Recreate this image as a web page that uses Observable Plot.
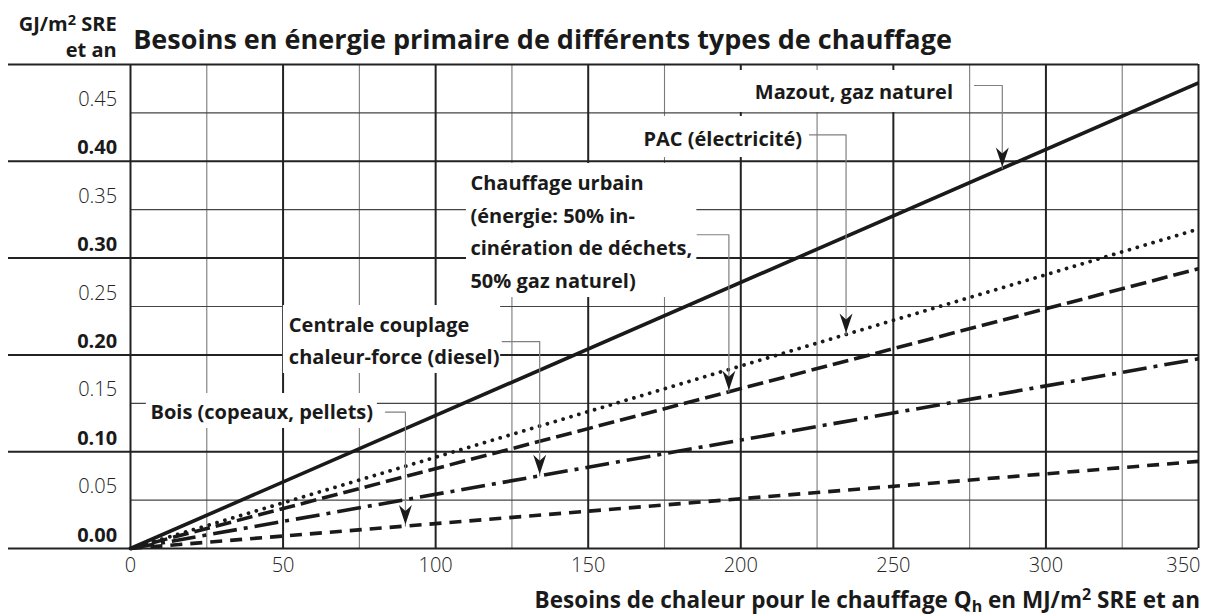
<!DOCTYPE html>
<html><head><meta charset="utf-8">
<script src="https://cdn.jsdelivr.net/npm/d3@7"></script>
<script src="https://cdn.jsdelivr.net/npm/@observablehq/plot@0.6"></script>
<style>
html,body{margin:0;padding:0;background:#fff;}
#chart{width:1207px;height:616px;}
</style></head><body><div id="chart"></div>
<script>
// ---- data ----
const qh = [0, 350];                       // MJ/m2 SRE et an
const seriesNames = ["Mazout, gaz naturel", "PAC (électricité)", "Chauffage urbain", "Centrale couplage chaleur-force (diesel)", "Bois (copeaux, pellets)"];
const mazout = [0, 0.481];                 // GJ/m2 SRE et an
const pac = [0, 0.330];
const urbain = [0, 0.289];
const ccf = [0, 0.196];
const bois = [0, 0.090];

const xMajorTicks = [0, 50, 100, 150, 200, 250, 300, 350];
const xMinorTicks = [25, 75, 125, 175, 225, 275, 325];
const yMajorTicks = [0, 0.1, 0.2, 0.3, 0.4, 0.5];
const yMinorTicks = [0.05, 0.15, 0.25, 0.35, 0.45];
const yLabelsBold = [0, 0.1, 0.2, 0.3, 0.4];
const yLabelsLight = [0.05, 0.15, 0.25, 0.35, 0.45];

const annotationTexts = [
  "Mazout, gaz naturel",
  "PAC (électricité)",
  "Chauffage urbain\n(énergie: 50% in-\ncinération de déchets,\n50% gaz naturel)",
  "Centrale couplage\nchaleur-force (diesel)",
  "Bois (copeaux, pellets)"
];

const titleText = "Besoins en énergie primaire de différents types de chauffage";

// ---- build tables ----
const valuesBySeries = [mazout, pac, urbain, ccf, bois];
const rows = [];
seriesNames.forEach((s, i) => qh.forEach((q, j) => rows.push({s, q, v: valuesBySeries[i][j]})));

// annotation layout (data units): text anchor, white box, leader
const annLayout = [
  {tx: 204.6, ty: 0.4646, box: [199.3, 274.3, 0.4504, 0.4938], lx: 276.6, ly: 0.4783, ax: 285.7},
  {tx: 168.1, ty: 0.4163, box: [166.2, 221.5, 0.4039, 0.4463], lx: 222.5, ly: 0.4274, ax: 234.5},
  {tx: 111.4, ty: 0.2696, box: [110.1, 185.6, 0.2593, 0.3977], lx: 185.7, ly: 0.3241, ax: 196.1},
  {tx: 51.9,  ty: 0.1901, box: [50.1, 121.3, 0.1808, 0.2510], lx: 121.8, ly: 0.2138, ax: 134.1},
  {tx: 6.55,  ty: 0.1340, box: [5.2, 80.9, 0.1240, 0.1601], lx: 83.6, ly: 0.1408, ax: 90.1}
];
const annRows = annLayout.map((a, i) => {
  const f = d3.scaleLinear(qh, valuesBySeries[i]);
  return {...a, text: annotationTexts[i], tipY: f(a.ax), id: i};
});
const leaderRows = annRows.flatMap(a => [
  {id: a.id, x: a.lx, y: a.ly},
  {id: a.id, x: a.ax, y: a.ly},
  {id: a.id, x: a.ax, y: a.tipY}
]);

const ink = "#1a1a1a";
const lineStyles = [
  {dash: null, cap: "butt", w: 3.6},
  {dash: "0.01 8.2", cap: "round", w: 3.8},
  {dash: "16 6", cap: "butt", w: 3.6},
  {dash: "24 7 4 7", cap: "butt", w: 3.6},
  {dash: "12 8", cap: "butt", w: 3.6}
];

const arrowHead = {
  draw(ctx) {
    ctx.moveTo(0, -1.5);
    ctx.lineTo(-6.5, -21);
    ctx.lineTo(0, -15);
    ctx.lineTo(6.5, -21);
    ctx.closePath();
  }
};

const fmt = d3.format(".2f");
const FONT = "'Open Sans', 'Noto Sans', sans-serif";

const chart = Plot.plot({
  width: 1207, height: 616,
  marginLeft: 130, marginRight: 9, marginTop: 64, marginBottom: 68,
  x: {domain: [0, 350], axis: null},
  y: {domain: [0, 0.5], axis: null},
  style: {fontFamily: FONT, background: "#fff", color: ink, overflow: "visible"},
  marks: [
    Plot.ruleX(xMinorTicks, {x: d => d, stroke: "#7a7a7a", strokeWidth: 1.1}),
    Plot.ruleY(yMinorTicks, {y: d => d, stroke: "#444", strokeWidth: 1.2}),
    Plot.ruleX(xMajorTicks, {x: d => d, stroke: "#222", strokeWidth: 2}),
    Plot.ruleY(yMajorTicks, {y: d => d, stroke: "#222", strokeWidth: 2, insetLeft: -122}),
    Plot.rect(annRows, {x1: d => d.box[0], x2: d => d.box[1], y1: d => d.box[2], y2: d => d.box[3], fill: "white"}),
    ...seriesNames.map((s, i) => Plot.line(rows.filter(r => r.s === s), {
      x: "q", y: "v", stroke: ink, strokeWidth: lineStyles[i].w,
      strokeDasharray: lineStyles[i].dash, strokeLinecap: lineStyles[i].cap
    })),
    Plot.line(leaderRows, {x: "x", y: "y", z: "id", stroke: "#808080", strokeWidth: 1.2}),
    Plot.dot(annRows, {x: "ax", y: "tipY", symbol: arrowHead, fill: ink, stroke: "none", r: 4}),
    Plot.text(annRows, {x: "tx", y: "ty", text: "text", textAnchor: "start", lineAnchor: "bottom",
      lineHeight: 1.62, fontSize: 20, fontWeight: 700, fill: ink}),
    Plot.text(yLabelsLight, {y: d => d, frameAnchor: "left", textAnchor: "end", lineAnchor: "bottom",
      dx: -13.3, dy: -7, text: d => fmt(d), fontSize: 20, fontWeight: 300, fill: "#222"}),
    Plot.text(yLabelsBold, {y: d => d, frameAnchor: "left", textAnchor: "end", lineAnchor: "bottom",
      dx: -13.3, dy: -7, text: d => fmt(d), fontSize: 20, fontWeight: 700, fill: ink}),
    Plot.text(xMajorTicks.slice(0, -1), {x: d => d, frameAnchor: "bottom", lineAnchor: "bottom",
      dy: 23.7, text: d => String(d), fontSize: 20, fontWeight: 300, fill: "#222"}),
    Plot.text(xMajorTicks.slice(-1), {x: d => d, frameAnchor: "bottom", lineAnchor: "bottom", textAnchor: "end",
      dx: 2, dy: 23.7, text: d => String(d), fontSize: 20, fontWeight: 300, fill: "#222"}),
    Plot.text([titleText], {frameAnchor: "top-left", textAnchor: "start", lineAnchor: "bottom",
      dx: 2.7, dy: -15.7, text: d => d, fontSize: 27, fontWeight: 700, fill: ink})
  ]
});
document.getElementById("chart").appendChild(chart);

// ---- axis titles with super/subscripts ----
const svg = d3.select(chart);
const yt = svg.append("g").attr("font-family", FONT).attr("font-weight", 700).attr("fill", ink).attr("text-anchor", "end");
const t1 = yt.append("text").attr("x", 116.7).attr("y", 30.7).attr("font-size", 20);
t1.append("tspan").text("GJ/m");
t1.append("tspan").attr("font-size", 14.5).attr("dy", -6).text("2");
t1.append("tspan").attr("dy", 6).text(" SRE");
yt.append("text").attr("x", 116.7).attr("y", 57.3).attr("font-size", 20).text("et an");

const xt = svg.append("text").attr("font-family", FONT).attr("font-weight", 700).attr("fill", ink)
  .attr("text-anchor", "end").attr("x", 1200).attr("y", 608).attr("font-size", 22.5);
xt.append("tspan").text("Besoins de chaleur pour le chauffage Q");
xt.append("tspan").attr("font-size", 16).attr("dy", 4).text("h");
xt.append("tspan").attr("dy", -4).text(" en MJ/m");
xt.append("tspan").attr("font-size", 16).attr("dy", -8).text("2");
xt.append("tspan").attr("dy", 8).text(" SRE et an");
</script>
</body></html>
